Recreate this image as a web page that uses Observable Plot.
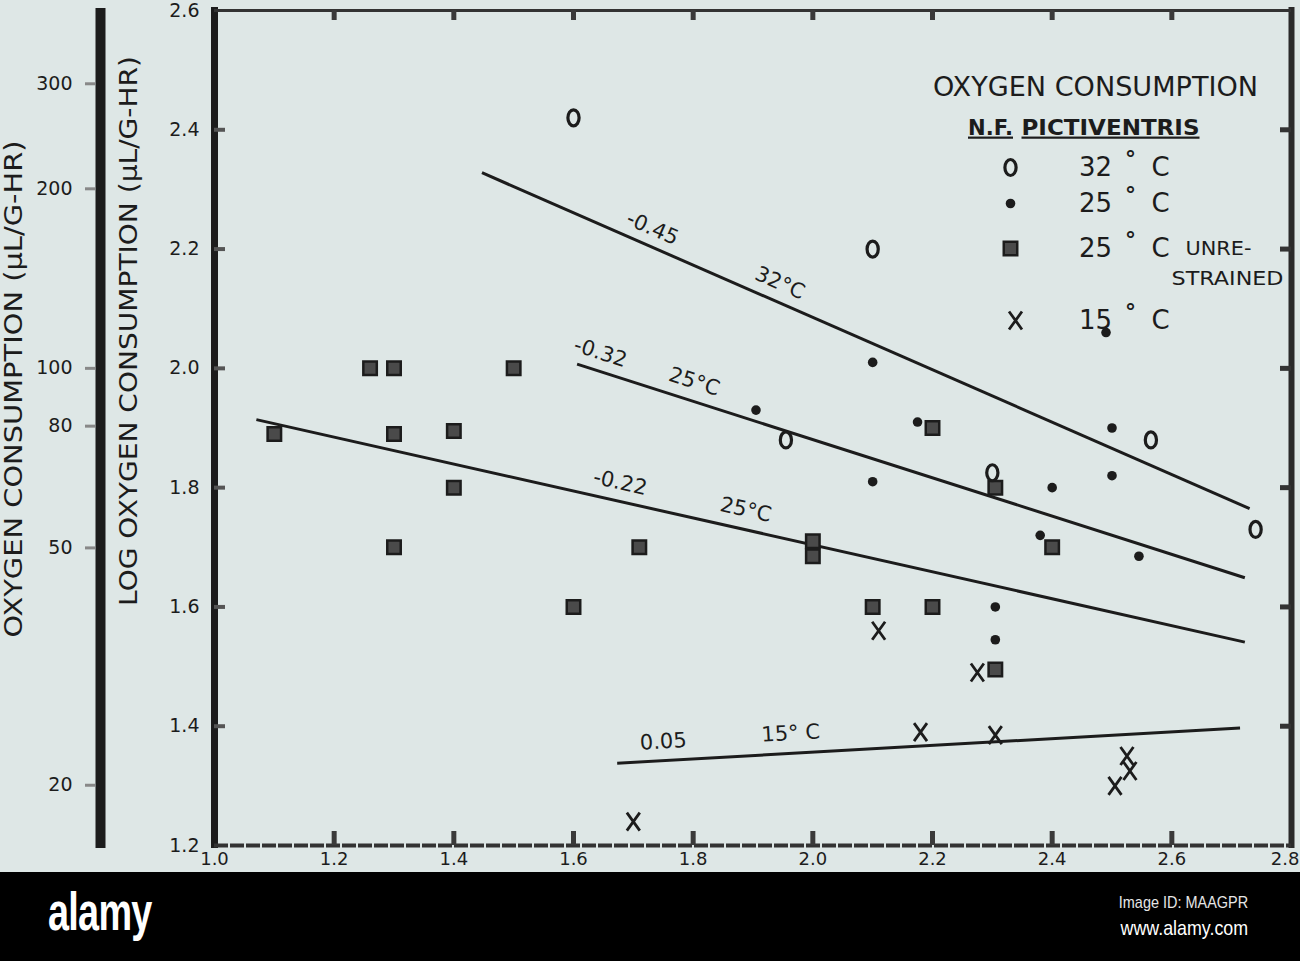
<!DOCTYPE html>
<html>
<head>
<meta charset="utf-8">
<script src="https://cdn.jsdelivr.net/npm/d3@7"></script>
<script src="https://cdn.jsdelivr.net/npm/@observablehq/plot@0.6"></script>
<style>
  html, body { margin: 0; padding: 0; background: #dee7e6; overflow: hidden; }
  #chart { width: 1300px; height: 872px; overflow: hidden; }
  #footer { position: relative; width: 1300px; height: 89px; background: #000; color: #fff; }
  #footer .logo { position: absolute; left: 48px; top: 8px; display: inline-block; transform: scaleX(0.7); transform-origin: left top; font-family: "Liberation Sans", "DejaVu Sans", sans-serif; font-weight: bold; font-size: 54px; letter-spacing: -1px; }
  #footer .id { position: absolute; right: 52px; top: 21px; display: inline-block; transform: scaleX(0.85); transform-origin: right top; font-family: "Liberation Sans", "DejaVu Sans", sans-serif; font-size: 17px; color: #e6e6e6; }
  #footer .url { position: absolute; right: 52px; top: 44px; display: inline-block; transform: scaleX(0.85); transform-origin: right top; font-family: "Liberation Sans", "DejaVu Sans", sans-serif; font-size: 21px; color: #fff; }
</style>
</head>
<body>
<div id="chart"></div>
<div id="footer"><span class="logo">alamy</span><span class="id">Image ID: MAAGPR</span><span class="url">www.alamy.com</span></div>
<script>
// ---------- data ----------
const xTicks = [1.0, 1.2, 1.4, 1.6, 1.8, 2.0, 2.2, 2.4, 2.6, 2.8];
const yTicks = [1.2, 1.4, 1.6, 1.8, 2.0, 2.2, 2.4, 2.6];
const rateTicks = [20, 50, 80, 100, 200, 300];   // µL/G-HR, outer (log) scale

// 32 °C (open "0")
const temp32X = [1.60, 2.10, 1.955, 2.30, 2.565, 2.74];
const temp32Y = [2.42, 2.20, 1.88, 1.825, 1.88, 1.73];
// 25 °C (filled dot)
const temp25X = [2.10, 2.49, 1.905, 2.175, 2.50, 2.10, 2.40, 2.50, 2.38, 2.545, 2.305, 2.305];
const temp25Y = [2.01, 2.06, 1.93, 1.91, 1.90, 1.81, 1.80, 1.82, 1.72, 1.685, 1.60, 1.545];
// 25 °C unrestrained (square)
const unrestrainedX = [1.10, 1.26, 1.30, 1.50, 1.30, 1.40, 1.40, 1.30, 1.60, 1.71, 2.00, 2.00, 2.10, 2.20, 2.20, 2.305, 2.305, 2.40];
const unrestrainedY = [1.89, 2.00, 2.00, 2.00, 1.89, 1.895, 1.80, 1.70, 1.60, 1.70, 1.71, 1.685, 1.60, 1.60, 1.90, 1.80, 1.495, 1.70];
// 15 °C (X)
const temp15X = [1.70, 2.11, 2.18, 2.275, 2.305, 2.505, 2.525, 2.53];
const temp15Y = [1.24, 1.56, 1.39, 1.49, 1.385, 1.30, 1.35, 1.325];

// fitted lines (end points) and their labels
const lineSlopes = ["-0.45", "-0.32", "-0.22", "0.05"];
const lineTemps = ["32°C", "25°C", "25°C", "15° C"];
const lineX1 = [1.447, 1.606, 1.07, 1.673];
const lineY1 = [2.328, 2.007, 1.914, 1.338];
const lineX2 = [2.73, 2.722, 2.722, 2.714];
const lineY2 = [1.765, 1.649, 1.541, 1.397];
const slopeLabelX = [1.732, 1.645, 1.678, 1.75];
const tempLabelX = [1.945, 1.802, 1.888, 1.963];

// legend
const legendTemps = ["32", "25", "25", "15"];

// ---------- layout ----------
const W = 1300, H = 872, mL = 214, mR = 9, mT = 10, mB = 27;
const innerW = W - mL - mR, innerH = H - mT - mB;
const ink = "#1c1c1c";
const bg = "#dee7e6";
const font = "'DejaVu Sans', Verdana, sans-serif";

const xs = d3.scaleLinear([1.0, 2.8], [mL, W - mR]);
const ys = d3.scaleLinear([1.2, 2.6], [H - mB, mT]);

const lines = lineSlopes.map((s, i) => {
  const ang = Math.atan2(ys(lineY2[i]) - ys(lineY1[i]), xs(lineX2[i]) - xs(lineX1[i])) * 180 / Math.PI;
  const at = (x) => lineY1[i] + (lineY2[i] - lineY1[i]) * (x - lineX1[i]) / (lineX2[i] - lineX1[i]);
  return {slope: s, temp: lineTemps[i], x1: lineX1[i], y1: lineY1[i], x2: lineX2[i], y2: lineY2[i],
    angle: ang, sx: slopeLabelX[i], sy: at(slopeLabelX[i]), tx: tempLabelX[i], ty: at(tempLabelX[i])};
});

const pts = (X, Y) => X.map((x, i) => ({x, y: Y[i]}));
const p32 = pts(temp32X, temp32Y), p25 = pts(temp25X, temp25Y), pU = pts(unrestrainedX, unrestrainedY), p15 = pts(temp15X, temp15Y);

// custom symbols
const oval = {draw(ctx, size) {
  const r = Math.sqrt(size / Math.PI), rx = r * 0.7, ry = r, k = 0.5523;
  ctx.moveTo(rx, 0);
  ctx.bezierCurveTo(rx, ry * k, rx * k, ry, 0, ry);
  ctx.bezierCurveTo(-rx * k, ry, -rx, ry * k, -rx, 0);
  ctx.bezierCurveTo(-rx, -ry * k, -rx * k, -ry, 0, -ry);
  ctx.bezierCurveTo(rx * k, -ry, rx, -ry * k, rx, 0);
  ctx.closePath();
}};
const xmark = {draw(ctx, size) {
  const r = Math.sqrt(size / Math.PI), w = r * 0.72, h = r;
  ctx.moveTo(-w, -h); ctx.lineTo(w, h);
  ctx.moveTo(w, -h); ctx.lineTo(-w, h);
}};

const styles = [
  {symbol: oval, r: 8, stroke: ink, strokeWidth: 3.2, fill: "none"},
  {symbol: "circle", r: 4.8, fill: ink, stroke: "none"},
  {symbol: "square", r: 7.6, fill: "#4a4a4a", stroke: ink, strokeWidth: 2.5},
  {symbol: xmark, r: 9, stroke: ink, strokeWidth: 2.8, fill: "none"}
];

const legendRowDy = [157, 193, 238, 310];
const legendMarks = [];
legendTemps.forEach((t, i) => {
  const dy = legendRowDy[i];
  legendMarks.push(
    Plot.dot([0], {frameAnchor: "top-left", dx: i === 3 ? 801 : 796, dy, ...styles[i]}),
    Plot.text([t], {frameAnchor: "top-left", dx: 881, dy, text: d => d, fontSize: 26, fill: ink, textAnchor: "middle", lineAnchor: "middle", fontFamily: font}),
    Plot.text(["°"], {frameAnchor: "top-left", dx: 916, dy: dy - 9, text: d => d, fontSize: 22, fontWeight: "bold", fill: ink, textAnchor: "middle", lineAnchor: "middle", fontFamily: font}),
    Plot.text(["C"], {frameAnchor: "top-left", dx: 946, dy, text: d => d, fontSize: 26, fill: ink, textAnchor: "middle", lineAnchor: "middle", fontFamily: font})
  );
});

const plot = Plot.plot({
  width: W, height: H,
  marginLeft: mL, marginRight: mR, marginTop: mT, marginBottom: mB,
  x: {domain: [1.0, 2.8]},
  y: {domain: [1.2, 2.6]},
  style: {background: bg, overflow: "hidden", fontFamily: font, color: ink},
  marks: [
    // frame
    Plot.ruleX([1.0], {stroke: ink, strokeWidth: 7, insetTop: -3, insetBottom: -3}),
    Plot.ruleX([2.8], {stroke: "#2a2a2a", strokeWidth: 6, insetTop: -3, insetBottom: -3}),
    Plot.ruleY([2.6], {stroke: "#333", strokeWidth: 3}),
    Plot.ruleY([1.2], {stroke: "#333", strokeWidth: 4, strokeDasharray: "14 2"}),
    // inner tick marks on all four sides
    Plot.ruleX(xTicks.slice(1, -1), {stroke: "#3a3a3a", strokeWidth: 5, insetBottom: innerH - 10}),
    Plot.ruleX(xTicks.slice(1, -1), {stroke: "#3a3a3a", strokeWidth: 5, insetTop: innerH - 14}),
    Plot.ruleY(yTicks.slice(1, -1), {stroke: "#555", strokeWidth: 4, insetRight: innerW - 11}),
    Plot.ruleY(yTicks.slice(1, -1), {stroke: "#333", strokeWidth: 5, insetLeft: innerW - 11}),
    // tick labels
    Plot.axisY(yTicks, {anchor: "left", tickSize: 0, tickPadding: 15, tickFormat: d3.format(".1f"), fontSize: 19, label: null, fill: ink}),
    Plot.axisX(xTicks.slice(0, -1), {anchor: "bottom", tickSize: 0, tickPadding: 7, tickFormat: d3.format(".1f"), fontSize: 18, label: null, fill: ink}),
    Plot.axisX(xTicks.slice(-1), {anchor: "bottom", tickSize: 0, tickPadding: 7, tickFormat: d3.format(".1f"), fontSize: 18, label: null, fill: ink, textAnchor: "end", dx: 8}),
    // outer µL/G-HR log axis
    Plot.ruleX([1.0], {dx: -114, stroke: ink, strokeWidth: 10, insetTop: -2, insetBottom: -3}),
    Plot.axisY(rateTicks.map(Math.log10), {anchor: "left", dx: -119, tickSize: 10, tickPadding: 13, tickFormat: d => String(Math.round(10 ** d)), fontSize: 19, label: null, stroke: "#888", strokeWidth: 3, fill: ink}),
    // axis titles
    Plot.text(["LOG OXYGEN CONSUMPTION (μL/G-HR)"], {frameAnchor: "left", dx: -85, dy: -97, rotate: -90, text: d => d, fontSize: 24, fill: ink, textAnchor: "middle", lineAnchor: "middle", fontFamily: font}),
    Plot.text(["OXYGEN CONSUMPTION (μL/G-HR)"], {frameAnchor: "left", dx: -200, dy: -39, rotate: -90, text: d => d, fontSize: 24, fill: ink, textAnchor: "middle", lineAnchor: "middle", fontFamily: font}),
    // regression lines
    Plot.link(lines, {x1: "x1", y1: "y1", x2: "x2", y2: "y2", stroke: ink, strokeWidth: 3}),
    Plot.text(lines, {x: "sx", y: "sy", text: "slope", rotate: "angle", dy: -19, fontSize: 21, fill: ink, textAnchor: "middle", lineAnchor: "middle", fontFamily: font}),
    Plot.text(lines, {x: "tx", y: "ty", text: "temp", rotate: "angle", dy: -20, fontSize: 21, fill: ink, textAnchor: "middle", lineAnchor: "middle", fontFamily: font}),
    // data points
    Plot.dot(pU, {x: "x", y: "y", ...styles[2]}),
    Plot.dot(p25, {x: "x", y: "y", ...styles[1]}),
    Plot.dot(p32, {x: "x", y: "y", ...styles[0]}),
    Plot.dot(p15, {x: "x", y: "y", ...styles[3]}),
    // legend
    Plot.text(["OXYGEN CONSUMPTION"], {frameAnchor: "top-left", dx: 881, dy: 77, text: d => d, fontSize: 26, fill: ink, textAnchor: "middle", lineAnchor: "middle", fontFamily: font}),
    Plot.text(["N.F."], {frameAnchor: "top-left", dx: 776, dy: 117, text: d => d, fontSize: 22, fontWeight: "bold", fill: ink, textAnchor: "middle", lineAnchor: "middle", fontFamily: font}),
    Plot.text(["PICTIVENTRIS"], {frameAnchor: "top-left", dx: 896, dy: 117, text: d => d, fontSize: 22, fontWeight: "bold", fill: ink, textAnchor: "middle", lineAnchor: "middle", fontFamily: font}),
    Plot.text(["UNRE-"], {frameAnchor: "top-left", dx: 1004, dy: 238, text: d => d, fontSize: 19, fill: ink, textAnchor: "middle", lineAnchor: "middle", fontFamily: font}),
    Plot.text(["STRAINED"], {frameAnchor: "top-left", dx: 1013, dy: 268, text: d => d, fontSize: 19, fill: ink, textAnchor: "middle", lineAnchor: "middle", fontFamily: font}),
    ...legendMarks
  ]
});

// fit typewriter-like text widths, underline species name
const fits = {
  "OXYGEN CONSUMPTION": 325, "N.F.": 45, "PICTIVENTRIS": 178,
  "LOG OXYGEN CONSUMPTION (μL/G-HR)": 550, "OXYGEN CONSUMPTION (μL/G-HR)": 497,
  "UNRE-": 66, "STRAINED": 112
};
d3.select(plot).selectAll("text").each(function () {
  const t = this.textContent;
  if (fits[t]) {
    this.setAttribute("textLength", fits[t]);
    this.setAttribute("lengthAdjust", "spacingAndGlyphs");
  }
  if (t === "N.F." || t === "PICTIVENTRIS") this.style.textDecoration = "underline";
});
document.getElementById("chart").appendChild(plot);
</script>
</body>
</html>
